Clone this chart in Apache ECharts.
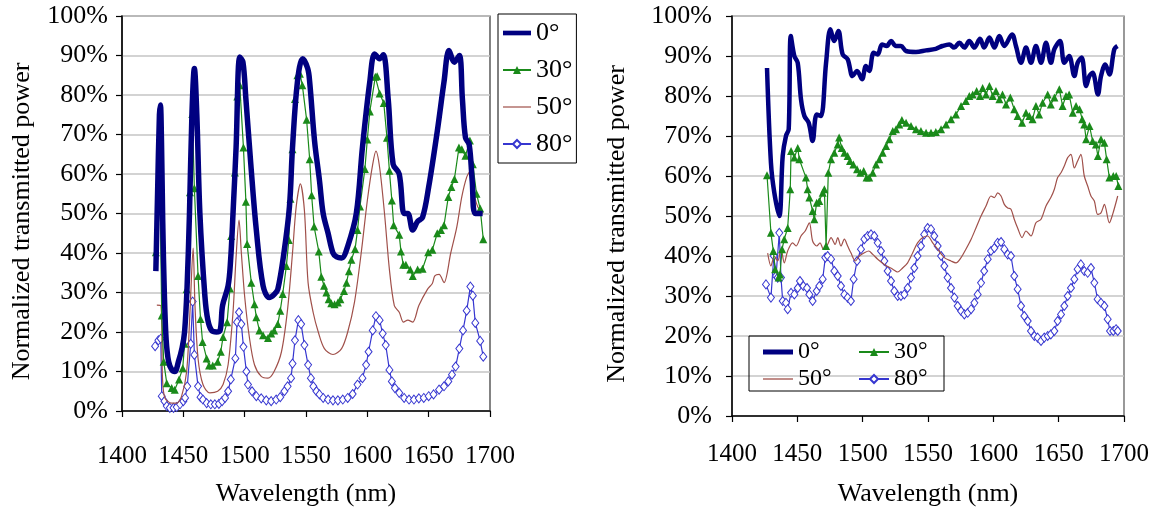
<!DOCTYPE html>
<html>
<head>
<meta charset="utf-8">
<script src="https://cdn.jsdelivr.net/npm/echarts@6/dist/echarts.min.js"></script>
<style>
  html, body { margin: 0; padding: 0; background: #fff; }
  #chart { width: 1161px; height: 512px; }
</style>
</head>
<body>
<div id="chart"></div>
<script>
// Incidence angles (series names)
const angles = ['0°', '30°', '50°', '80°'];

// Left panel: [wavelength (nm), normalized transmitted power (%)]
const left0 = [[1427.6,35.4],[1429,55],[1430.5,75],[1431.3,77.5],[1432.2,68],[1433.2,48],[1434.5,30],[1436,18],[1438,12.5],[1440.5,10.5],[1443,10],[1446,12.5],[1449,16],[1451,20],[1453,31],[1455,50],[1457,75],[1459,86.7],[1461,75],[1463.5,50],[1467.6,29],[1470,23],[1473,20.4],[1477,20],[1480,20.4],[1482,26.7],[1486.5,31.7],[1488.5,38],[1490.5,50],[1493,66.7],[1496,89.6],[1498.6,88.3],[1501,79],[1505,62.5],[1509.5,45.8],[1515,31.7],[1520,28.75],[1524,29.5],[1527,30.8],[1532,40],[1536.5,51.7],[1539,66.7],[1543,83.3],[1547.3,89.2],[1551.4,86.7],[1553,83.3],[1557,68.3],[1561,58.3],[1564,50],[1568,45],[1572,40],[1575,39],[1579,38.75],[1584,41.7],[1591,50],[1596,66.7],[1602,83.3],[1606,90.4],[1610,89.2],[1613,90.2],[1617,79],[1621,62.5],[1626,60],[1630,50],[1633,50],[1637,45.8],[1641,48],[1645,49],[1650,56.7],[1657,70.8],[1662.5,83.3],[1666.6,91.25],[1671,88.3],[1675,90],[1677.5,79],[1680,69.2],[1683,67.5],[1685.5,58.3],[1688,50],[1694,50]];
const left30 = [[1427.6,40.2],[1431,55.6],[1432.4,24.2],[1434,12.5],[1436.5,7],[1440.5,5.8],[1443,5.4],[1446.5,8],[1449.5,10.8],[1451,17],[1452.7,30.8],[1455.4,55.4],[1457.3,75.2],[1459,56.4],[1462,34.2],[1464,23.3],[1465.7,17.5],[1469,13.3],[1471,11.5],[1474,11.5],[1478,12.5],[1480.5,15],[1482.4,18.75],[1485.7,22.5],[1488,31],[1489,44.3],[1492,60.4],[1494,79.6],[1496,82.5],[1499,66.7],[1501,53],[1502,42.25],[1505.4,32.5],[1508,27],[1509.5,23.75],[1512,20.4],[1515,19.2],[1519,18.5],[1521.6,19.6],[1524,20.4],[1527,22],[1529,25.4],[1531,29.6],[1534,36.7],[1536,43.3],[1537.3,53.75],[1539,66.25],[1541,79],[1543,85],[1545,85.4],[1547,82.5],[1550.5,73.75],[1553,63.75],[1554.6,54.6],[1556.6,46.7],[1560.4,40.4],[1562.5,34],[1564.7,31.7],[1566.6,30],[1568.5,28.3],[1570.6,27.25],[1573.3,27],[1576,27.5],[1578,28.3],[1581,30.4],[1583,32.5],[1585,35.4],[1587,38.3],[1590,41],[1592,45.8],[1594,51.8],[1598,61.25],[1600,68.75],[1602,75.8],[1606.5,84.6],[1608,84.75],[1610,80.4],[1613.4,78],[1616,69.2],[1618,60.8],[1620,53.3],[1621.5,47],[1626,44.6],[1627.4,40.4],[1629.3,37],[1631.4,37],[1635,35.8],[1637,34.2],[1641,35.8],[1645,36],[1649.6,40.2],[1653,40.8],[1657,45],[1660,45.8],[1662.5,47],[1666,54.2],[1668.5,56.7],[1671,58.75],[1674.7,66.7],[1677,66.25],[1680,64.6],[1683.6,68.5],[1686,62.5],[1689,55],[1692,51.25],[1694.5,43.5]];
const left50 = [[1428.4,26.8],[1431.8,26.6],[1433,8.3],[1435,3.3],[1440.5,2],[1444.6,2],[1448.6,3.75],[1452.7,10],[1455.4,25],[1458,41.25],[1459.5,26.7],[1462,13.3],[1466,6.7],[1471.6,4.6],[1478,5],[1482.4,6.7],[1486.5,11.7],[1490.5,25],[1493,39],[1495.4,48.3],[1497.3,40],[1500,29],[1504,18.3],[1508,11.7],[1513.5,8.75],[1519,8.3],[1524,10],[1530,15],[1535,25.8],[1539,40],[1542,51.7],[1545.4,57.5],[1548.7,50.8],[1551.7,32.5],[1555.8,25],[1560,20],[1565,15.8],[1572,14.3],[1579,15.8],[1584,20],[1589.5,27.5],[1595,40],[1600,53.3],[1604.4,62.5],[1607,65.8],[1610,61.7],[1614,50],[1618,35.8],[1622,26.7],[1626,25],[1629.5,22.5],[1633,23],[1637,22.5],[1642,26.7],[1649,30.8],[1653,32.3],[1655,34.2],[1658.5,34.6],[1662.5,32.5],[1668,40],[1673,46.7],[1677,54.2],[1681,59.2],[1684,60.8],[1687,55],[1690,51.7],[1694,50]];
const left80 = [[1427,16.4],[1429.7,17.9],[1431.6,18.3],[1432.4,3.75],[1434.6,2.5],[1436.5,1.25],[1439,0.8],[1442,0.8],[1444.6,1],[1447.3,1.7],[1450,2.5],[1451.4,3.3],[1453.2,6.25],[1456,17],[1457.6,27.7],[1459,14.2],[1462,6.25],[1464,3.5],[1466,2.9],[1469,2],[1472.4,1.7],[1475.7,1.7],[1479,1.8],[1481.6,2.5],[1484,3.3],[1486.5,5],[1488.7,8],[1492.4,13.3],[1493.8,22.5],[1495.4,25],[1497.3,22],[1499,16.25],[1501.4,10],[1502.7,6.7],[1506,5],[1509.5,3.75],[1513.5,3.2],[1517.6,2.7],[1521.6,2.5],[1525.7,2.9],[1529,3.5],[1532.4,5],[1535,6.25],[1537.8,8.3],[1539,12],[1541,17.9],[1543.8,23],[1546,22],[1548.7,16.7],[1551.7,11.7],[1554,8.3],[1556,6.25],[1558.5,5],[1561,4.2],[1564,3.3],[1568,2.9],[1572,2.7],[1576,2.7],[1580,2.9],[1584,3.3],[1588,4.3],[1592,6.7],[1596,8.3],[1599,11.7],[1601,15],[1604.4,20.4],[1607,24],[1610,23],[1612.5,19.6],[1615,16.7],[1618,10.4],[1620,7.5],[1622.5,5.8],[1626,4.6],[1630,3.3],[1634,2.9],[1638,2.9],[1642,3.2],[1646,3.3],[1650,3.75],[1654,4.2],[1658.5,5.4],[1662.5,6.25],[1666,7.5],[1669,9.2],[1672,11.25],[1675,15.8],[1678,20.4],[1681,25.4],[1684,31.5],[1686,29.2],[1688,22.3],[1692,17.75],[1694.5,13.75]];

// Right panel: [wavelength (nm), normalized transmitted power (%)]
const right0 = [[1426.8,87],[1429.8,63.3],[1432.4,55.8],[1436.2,50],[1438.8,65],[1441.3,70],[1443.4,71.7],[1445,95],[1447.7,90],[1450.3,88.3],[1452.8,79.2],[1455.4,75],[1458.7,73.3],[1461.7,68.75],[1464.8,75.4],[1468,75],[1472,88.3],[1475.3,96.7],[1478.3,93.75],[1481.4,96.25],[1484.7,90.4],[1488.5,89.2],[1492.3,85],[1495.7,86.25],[1499.5,84.2],[1502.5,87.5],[1505,86.25],[1508.4,90.8],[1511.5,90.4],[1514.8,92.9],[1518.4,92.5],[1521.7,93.75],[1525.5,92.5],[1529.3,92.5],[1533.2,91.25],[1540.8,91],[1548.5,91.4],[1556,91.8],[1561,92.5],[1566.3,92.9],[1570,92.1],[1574,93.3],[1577.8,92.1],[1581.6,93.75],[1585.5,92.1],[1589.8,94.3],[1593,92.1],[1597,94.6],[1600.8,92.1],[1604.6,95],[1608.4,92.5],[1614.3,95.4],[1617.3,92.5],[1621.2,88.3],[1625,92.1],[1628.8,88.3],[1632.6,92.5],[1636.5,88.3],[1640.3,93.3],[1644.1,88.3],[1646.7,91.7],[1651,93.75],[1654.3,88.3],[1658,90],[1662,85],[1664.5,88.3],[1667.6,89.6],[1671,82.5],[1673.5,85],[1676,85.8],[1680,80.4],[1682.4,85],[1685.7,87.9],[1688.8,85.4],[1692.6,91.7],[1695,92.5]];
const right30 = [[1426.8,60.2],[1429.8,45.8],[1431.6,41.25],[1433,36.7],[1435.7,34.6],[1436.7,35.4],[1438.3,41.7],[1440,44.2],[1442.6,47],[1444.6,56.7],[1445.2,66.25],[1447.7,64.6],[1450.3,67],[1451.5,64.2],[1456.6,59.6],[1457.9,56.7],[1459.2,54.6],[1461.7,51.25],[1463,49.2],[1464.8,53.3],[1466.8,53.75],[1469.4,55.8],[1470.7,56.7],[1472,42.5],[1473.7,60.8],[1475.8,64.2],[1478.3,65.8],[1480.9,67.9],[1482,69.6],[1484,67],[1486,65.8],[1488.5,65],[1490.3,63.75],[1492.9,62.9],[1495.7,61.7],[1498.2,60.8],[1500.8,61.25],[1503,59.6],[1505,59.6],[1507.7,60.8],[1510.2,62.9],[1512.8,64.2],[1515.3,65.8],[1517.9,67.5],[1520.4,69.2],[1523,71.25],[1525.5,71.7],[1528,72.9],[1530,74],[1533.2,73.3],[1537,72.5],[1540.8,71.7],[1544.6,71.25],[1548.5,70.8],[1552.3,70.8],[1556,71],[1560,71.7],[1563.8,72.9],[1567.6,74.2],[1571.4,75.4],[1575.3,77.5],[1579,78.75],[1581.6,80],[1584.2,80.4],[1587.2,81.25],[1589.8,80],[1591.8,82],[1594.4,80.4],[1597,82.5],[1599.5,80],[1602,81.25],[1604.6,79.2],[1607,80.4],[1609.7,77.9],[1613,79.6],[1616,76.7],[1618.6,75],[1622,73.3],[1625,75.8],[1627.6,75],[1630,74.2],[1632.6,77.5],[1635,75.4],[1637.7,78.3],[1641.6,80.4],[1644,77.9],[1646.7,79.6],[1650.5,81.7],[1653,77.5],[1655.6,80],[1658,80.4],[1660.8,75.8],[1663.3,77.5],[1666,76.7],[1668,74.2],[1669.6,72.9],[1671,69.2],[1673.6,72.5],[1676,68.75],[1678.5,67.9],[1680,65],[1682.4,69.2],[1685,68.3],[1686.7,64.2],[1688.8,59.6],[1691.8,60],[1694,60],[1695.7,57.5]];
const right50 = [[1427.3,40.7],[1429.8,37.5],[1432.4,40],[1435,38.75],[1437.5,41.7],[1440,38.3],[1442.6,41.25],[1446.4,43.3],[1449,42.5],[1452.8,45],[1456,46.25],[1459.2,48.3],[1461.7,43.75],[1464.8,42.5],[1467.4,43.3],[1469.9,41.7],[1473.2,42.9],[1475.8,44.6],[1479,42.9],[1480.9,44.6],[1483.4,42.5],[1486,44.2],[1488.5,42.5],[1491,40.8],[1494.4,38.75],[1497.5,40],[1501.3,40.8],[1504.6,41.25],[1507.7,40.4],[1511.5,39.2],[1516.6,37.9],[1523,36.7],[1526.8,36],[1530.6,37],[1534.4,38.3],[1538.3,40.8],[1542,43.3],[1546,44.6],[1549.7,45],[1553.6,43.3],[1557.4,41.7],[1562.5,39.6],[1567.6,38.75],[1571.4,38.3],[1575.3,39.6],[1579,41.7],[1583,44.2],[1586.7,47],[1590.6,50],[1594.4,52.5],[1598.2,55],[1600.8,54.6],[1603.3,55.8],[1605.9,55],[1608.4,52.9],[1611,52],[1613.5,51.7],[1616,49.2],[1618.6,47],[1622,44.6],[1625,46.25],[1628.8,45],[1632.6,48.3],[1636.5,49.2],[1640.3,52.5],[1644,54.6],[1646.7,56.7],[1649.2,59.6],[1651.8,60.8],[1654.3,62.5],[1656.9,64.6],[1659.4,65.4],[1662,62],[1664.5,63.75],[1667,65.4],[1669.6,60],[1672.2,57.5],[1674.7,55],[1677.3,53.75],[1679.8,50.4],[1682.4,50.8],[1685,52.9],[1688.8,48.3],[1691.3,50.4],[1695.2,55]];
const right80 = [[1426,32.9],[1429.8,29.6],[1432,40],[1433.7,35],[1435,34.6],[1436.2,45.8],[1437.5,34.6],[1438.8,28.75],[1441.3,28.3],[1442.6,26.7],[1445.2,30.8],[1447.7,30.4],[1450.3,32],[1452,33.75],[1454.6,32.5],[1457.4,32],[1459.2,30.4],[1461.7,28.75],[1464.8,31.25],[1466.8,32.5],[1469.4,34.2],[1471.4,39.6],[1473.2,40],[1475.8,39.2],[1478.3,36.25],[1480.9,35],[1483.4,32.5],[1486,30.4],[1488.5,29.6],[1491,28.75],[1493.1,34.2],[1495.7,38.75],[1498.7,41.7],[1501.3,44.2],[1503.8,45],[1506.4,45.4],[1508.9,45],[1511.5,43.3],[1514,41.25],[1516.6,38.75],[1519.1,36.25],[1521.7,33.75],[1524.2,31.25],[1526.8,30],[1529.3,30],[1531.9,30.4],[1534.4,32],[1537,34.6],[1539.5,37],[1542,40],[1544.6,42.5],[1547.1,45.4],[1549.7,47],[1552.3,46.7],[1554.8,45],[1557.4,42.5],[1560,40],[1562.5,37.5],[1565,34.6],[1567.6,32],[1570.2,29.6],[1572.7,27.5],[1575.3,26.25],[1577.8,25.4],[1580.4,25.8],[1583,26.7],[1585.5,28.3],[1588,30.4],[1590.6,33.3],[1593,36.25],[1595.7,39.2],[1598.2,41.25],[1600.8,42],[1603.3,43.3],[1605.9,43.5],[1608.4,41.7],[1611,40.4],[1613.5,40],[1616,35],[1618.6,31.7],[1621.2,27.5],[1623.7,25],[1626.3,23.75],[1628.8,21.25],[1631.4,20],[1633.9,19.6],[1636.5,18.75],[1639,19.6],[1641.6,20],[1644,20.4],[1646.7,21.25],[1649.2,23.75],[1651.8,25.4],[1654.3,27.5],[1656.9,30],[1659.4,32],[1662,34.2],[1664.5,36.7],[1667,37.9],[1669.6,36.25],[1672.2,35.8],[1674.7,37],[1677.3,33.3],[1679.8,29.2],[1682.4,28.3],[1685,27.5],[1687.5,24.2],[1689.3,21.25],[1691.8,21.25],[1693.9,21.7],[1695.2,21.25]];

const FONT = "'Liberation Serif', serif";
const NAVY = '#000080', GREEN = '#1a8a1a', BROWN = '#a0504a', BLUE = '#3636d0';

// Plain line icons for the unmarked series in the legends
const thickLineIcon = 'path://M0,0L30,0L30,5L0,5Z';
const thinLineIcon = 'path://M0,0L30,0L30,1.3L0,1.3Z';

const chart = echarts.init(document.getElementById('chart'), null, { renderer: 'canvas' });

function xAxisFor(gi, labelMargin, nameGap) {
  return {
    gridIndex: gi, type: 'value', min: 1400, max: 1700, interval: 50,
    axisLine: { show: true, onZero: false, lineStyle: { color: '#000', width: 1.5 } },
    axisTick: { show: true, length: 6, lineStyle: { color: '#000', width: 1.2 } },
    splitLine: { show: false },
    axisLabel: { margin: labelMargin, formatter: v => String(v), color: '#000', fontFamily: FONT, fontSize: 25 },
    name: 'Wavelength (nm)', nameLocation: 'middle', nameGap: nameGap, nameMoveOverlap: false,
    nameTextStyle: { color: '#000', fontFamily: FONT, fontSize: 26 }
  };
}
function yAxisFor(gi, labelMargin, nameGap) {
  return {
    gridIndex: gi, type: 'value', min: 0, max: 100, interval: 10,
    axisLine: { show: true, lineStyle: { color: '#000', width: 1.5 } },
    axisTick: { show: true, length: 6, lineStyle: { color: '#000', width: 1.2 } },
    splitLine: { show: true, lineStyle: { color: '#c4c4c4', width: 1.5 } },
    axisLabel: { margin: labelMargin, formatter: '{value}%', color: '#000', fontFamily: FONT, fontSize: 26 },
    name: 'Normalized transmitted power', nameLocation: 'middle', nameGap: nameGap, nameMoveOverlap: false,
    nameTextStyle: { color: '#000', fontFamily: FONT, fontSize: 26, padding: [0, 16, 0, 0] }
  };
}

function seriesSet(gi, d0, d30, d50, d80, thick) {
  return [
    { name: angles[0], type: 'line', xAxisIndex: gi, yAxisIndex: gi, data: d0,
      symbol: 'none', smooth: 0.35, lineStyle: { color: NAVY, width: thick }, itemStyle: { color: NAVY }, z: 5 },
    { name: angles[1], type: 'line', xAxisIndex: gi, yAxisIndex: gi, data: d30,
      symbol: 'triangle', symbolSize: 8, lineStyle: { color: GREEN, width: 1.2 }, itemStyle: { color: GREEN }, z: 4 },
    { name: angles[2], type: 'line', xAxisIndex: gi, yAxisIndex: gi, data: d50,
      symbol: 'none', smooth: 0.3, lineStyle: { color: BROWN, width: 1.2 }, itemStyle: { color: BROWN }, z: 3 },
    { name: angles[3], type: 'line', xAxisIndex: gi, yAxisIndex: gi, data: d80,
      symbol: 'diamond', symbolSize: [7, 9], lineStyle: { color: BLUE, width: 1.2 },
      itemStyle: { color: '#fff', borderColor: BLUE, borderWidth: 1 }, z: 2 }
  ];
}

function legendItem(i) {
  if (i === 0) return { name: angles[0], icon: thickLineIcon };
  if (i === 2) return { name: angles[2], icon: thinLineIcon };
  return { name: angles[i] };
}

chart.setOption({
  animation: false,
  backgroundColor: '#fff',
  grid: [
    { left: 122, top: 16, width: 368, height: 400, show: true, borderColor: '#333', borderWidth: 1.2 },
    { left: 732, top: 16, width: 392, height: 400, show: true, borderColor: '#555', borderWidth: 1.2 }
  ],
  xAxis: [xAxisFor(0, 33, 70), xAxisFor(1, 26, 65)],
  yAxis: [yAxisFor(0, 14, 87), yAxisFor(1, 20, 102)],
  legend: [
    { orient: 'vertical', left: 498, top: 14, data: [0, 1, 2, 3].map(legendItem), itemWidth: 28, itemHeight: 10, itemGap: 11,
      textStyle: { color: '#000', fontFamily: FONT, fontSize: 26 }, borderColor: '#000', borderWidth: 1,
      padding: [6, 4, 6, 4], selectedMode: false },
    { orient: 'vertical', left: 763, top: 340, data: [legendItem(0), legendItem(2)], itemWidth: 30, itemHeight: 10, itemGap: 3,
      textStyle: { color: '#000', fontFamily: FONT, fontSize: 24 }, padding: 0, selectedMode: false },
    { orient: 'vertical', left: 858, top: 340, data: [legendItem(1), legendItem(3)], itemWidth: 30, itemHeight: 10, itemGap: 3,
      textStyle: { color: '#000', fontFamily: FONT, fontSize: 24 }, padding: 0, selectedMode: false }
  ],
  graphic: [
    { type: 'rect', shape: { x: 749, y: 336, width: 195, height: 55 }, style: { fill: 'rgba(0,0,0,0)', stroke: '#000', lineWidth: 1 }, z: 10, silent: true }
  ],
  series: [].concat(
    seriesSet(0, left0, left30, left50, left80, 5.5),
    seriesSet(1, right0, right30, right50, right80, 4.5)
  )
});
</script>
</body>
</html>
